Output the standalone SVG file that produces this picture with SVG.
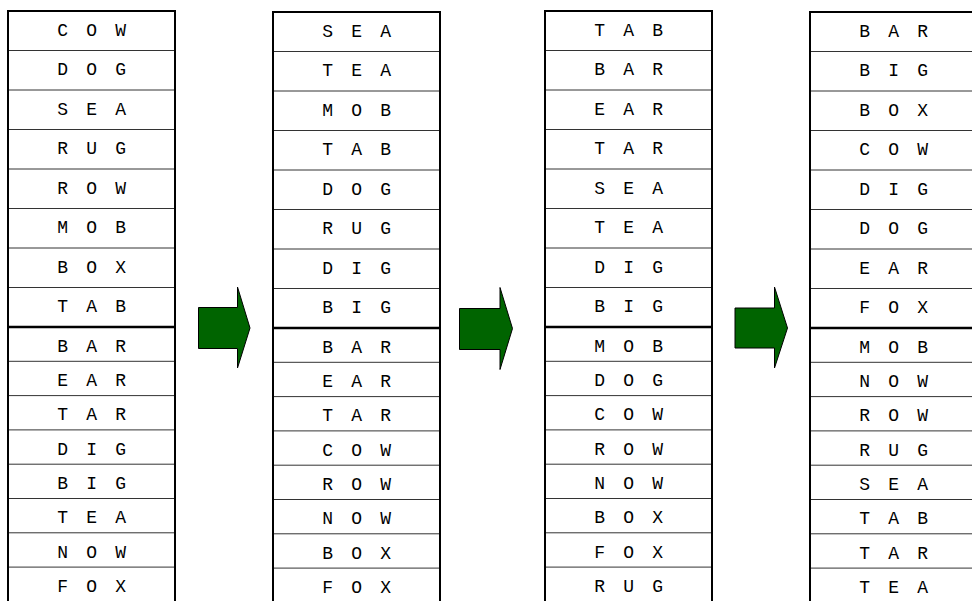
<svg xmlns="http://www.w3.org/2000/svg" width="972" height="601" viewBox="0 0 972 601">
<style>
.bg{fill:#ffffff}
.sep{stroke:#333333;stroke-width:1;fill:none}
.div{stroke:#000000;stroke-width:2.5;fill:none}
.edge{stroke:#000000;stroke-width:2;fill:none}
.t{font-family:"Liberation Mono","Courier New",monospace;font-size:18px;letter-spacing:3.7px;fill:#000000;text-anchor:middle;dominant-baseline:central}
.arrow{fill:#006400;stroke:#000000;stroke-width:1}
</style>
<rect class="bg" x="0" y="0" width="972" height="601"/>
<defs>
<g id="grid">
<line class="sep" x1="0" y1="39.5" x2="167" y2="39.5"/>
<line class="sep" x1="0" y1="79" x2="167" y2="79"/>
<line class="sep" x1="0" y1="118.5" x2="167" y2="118.5"/>
<line class="sep" x1="0" y1="158" x2="167" y2="158"/>
<line class="sep" x1="0" y1="197.5" x2="167" y2="197.5"/>
<line class="sep" x1="0" y1="237" x2="167" y2="237"/>
<line class="sep" x1="0" y1="276.5" x2="167" y2="276.5"/>
<line class="sep" x1="0" y1="350.3" x2="167" y2="350.3"/>
<line class="sep" x1="0" y1="384.6" x2="167" y2="384.6"/>
<line class="sep" x1="0" y1="418.9" x2="167" y2="418.9"/>
<line class="sep" x1="0" y1="453.2" x2="167" y2="453.2"/>
<line class="sep" x1="0" y1="487.5" x2="167" y2="487.5"/>
<line class="sep" x1="0" y1="521.8" x2="167" y2="521.8"/>
<line class="sep" x1="0" y1="556.1" x2="167" y2="556.1"/>
<line class="div" x1="0" y1="316" x2="167" y2="316"/>
<line class="edge" x1="0" y1="0" x2="167" y2="0"/>
<line class="edge" x1="0" y1="-1" x2="0" y2="600"/>
<line class="edge" x1="167" y1="-1" x2="167" y2="600"/>
</g>
</defs>

<g id="column1" transform="translate(8,11)">
<use href="#grid"/>
<text class="t" x="85.5" y="19.5">C O W</text>
<text class="t" x="85.5" y="59">D O G</text>
<text class="t" x="85.5" y="98.5">S E A</text>
<text class="t" x="85.5" y="138">R U G</text>
<text class="t" x="85.5" y="177.5">R O W</text>
<text class="t" x="85.5" y="217">M O B</text>
<text class="t" x="85.5" y="256.5">B O X</text>
<text class="t" x="85.5" y="296">T A B</text>
<text class="t" x="85.5" y="335.5">B A R</text>
<text class="t" x="85.5" y="370">E A R</text>
<text class="t" x="85.5" y="404.3">T A R</text>
<text class="t" x="85.5" y="438.6">D I G</text>
<text class="t" x="85.5" y="472.9">B I G</text>
<text class="t" x="85.5" y="507.2">T E A</text>
<text class="t" x="85.5" y="541.5">N O W</text>
<text class="t" x="85.5" y="575.8">F O X</text>
</g>

<g id="column2" transform="translate(273,12)">
<use href="#grid"/>
<text class="t" x="85.5" y="19.5">S E A</text>
<text class="t" x="85.5" y="59">T E A</text>
<text class="t" x="85.5" y="98.5">M O B</text>
<text class="t" x="85.5" y="138">T A B</text>
<text class="t" x="85.5" y="177.5">D O G</text>
<text class="t" x="85.5" y="217">R U G</text>
<text class="t" x="85.5" y="256.5">D I G</text>
<text class="t" x="85.5" y="296">B I G</text>
<text class="t" x="85.5" y="335.5">B A R</text>
<text class="t" x="85.5" y="370">E A R</text>
<text class="t" x="85.5" y="404.3">T A R</text>
<text class="t" x="85.5" y="438.6">C O W</text>
<text class="t" x="85.5" y="472.9">R O W</text>
<text class="t" x="85.5" y="507.2">N O W</text>
<text class="t" x="85.5" y="541.5">B O X</text>
<text class="t" x="85.5" y="575.8">F O X</text>
</g>

<g id="column3" transform="translate(545,11)">
<use href="#grid"/>
<text class="t" x="85.5" y="19.5">T A B</text>
<text class="t" x="85.5" y="59">B A R</text>
<text class="t" x="85.5" y="98.5">E A R</text>
<text class="t" x="85.5" y="138">T A R</text>
<text class="t" x="85.5" y="177.5">S E A</text>
<text class="t" x="85.5" y="217">T E A</text>
<text class="t" x="85.5" y="256.5">D I G</text>
<text class="t" x="85.5" y="296">B I G</text>
<text class="t" x="85.5" y="335.5">M O B</text>
<text class="t" x="85.5" y="370">D O G</text>
<text class="t" x="85.5" y="404.3">C O W</text>
<text class="t" x="85.5" y="438.6">R O W</text>
<text class="t" x="85.5" y="472.9">N O W</text>
<text class="t" x="85.5" y="507.2">B O X</text>
<text class="t" x="85.5" y="541.5">F O X</text>
<text class="t" x="85.5" y="575.8">R U G</text>
</g>

<g id="column4" transform="translate(810,12)">
<use href="#grid"/>
<text class="t" x="85.5" y="19.5">B A R</text>
<text class="t" x="85.5" y="59">B I G</text>
<text class="t" x="85.5" y="98.5">B O X</text>
<text class="t" x="85.5" y="138">C O W</text>
<text class="t" x="85.5" y="177.5">D I G</text>
<text class="t" x="85.5" y="217">D O G</text>
<text class="t" x="85.5" y="256.5">E A R</text>
<text class="t" x="85.5" y="296">F O X</text>
<text class="t" x="85.5" y="335.5">M O B</text>
<text class="t" x="85.5" y="370">N O W</text>
<text class="t" x="85.5" y="404.3">R O W</text>
<text class="t" x="85.5" y="438.6">R U G</text>
<text class="t" x="85.5" y="472.9">S E A</text>
<text class="t" x="85.5" y="507.2">T A B</text>
<text class="t" x="85.5" y="541.5">T A R</text>
<text class="t" x="85.5" y="575.8">T E A</text>
</g>

<g id="connectors">
<polygon class="arrow" points="198.5,307.5 237.5,307.5 237.5,287 250,328 237.5,368 237.5,348.5 198.5,348.5"/>
<polygon class="arrow" points="459.5,308.5 500,308.5 500,287.5 512.5,328.5 500,369.5 500,349.5 459.5,349.5"/>
<polygon class="arrow" points="735,308 774.5,308 774.5,287 787.5,328 774.5,368 774.5,348 735,348"/>
</g>
</svg>
